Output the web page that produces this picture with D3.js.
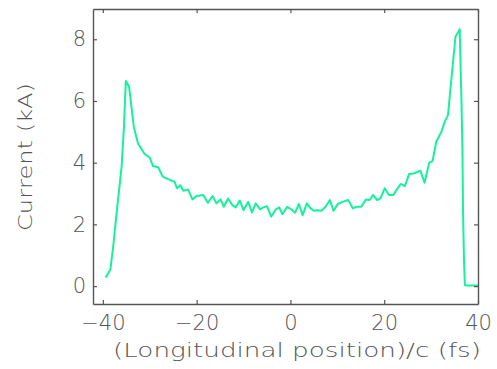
<!DOCTYPE html>
<html>
<head>
<meta charset="utf-8">
<script src="https://cdn.jsdelivr.net/npm/d3@7"></script>
<style>
  html, body { margin: 0; padding: 0; background: #fff; }
  svg text { font-family: "DejaVu Sans", sans-serif; font-weight: 200; fill: #555; }
</style>
</head>
<body>
<div id="chart"></div>
<script>
// Current profile
const positionFs = [
  -39.4, -38.4, -37.8, -37.0, -36.0, -35.5, -35.1, -34.4, -33.4, -32.5,
  -31.1, -30.0, -29.3, -28.2, -27.2, -25.7, -24.7, -24.2, -23.5, -22.8,
  -21.8, -20.9, -20.0, -18.6, -17.6, -16.6, -15.8, -14.9, -14.2, -13.3,
  -12.4, -11.7, -10.8, -10.0, -9.0, -8.2, -7.4, -6.5, -5.8, -5.0,
  -4.1, -3.1, -2.4, -1.7, -0.7, 0.2, 1.0, 1.8, 2.6, 3.5,
  4.3, 5.0, 5.7, 6.6, 7.5, 8.4, 9.2, 10.1, 11.1, 12.3,
  13.3, 14.1, 15.1, 16.1, 16.9, 17.6, 18.5, 19.2, 20.1, 21.0,
  21.9, 22.6, 23.5, 24.4, 25.3, 26.3, 27.7, 28.6, 29.6, 30.3,
  31.1, 32.2, 32.9, 33.6, 34.3, 35.2, 36.1, 36.5, 36.7, 36.8,
  37.0, 37.2, 38.0, 40.0
];
const currentKA = [
  0.28, 0.54, 1.27, 2.46, 3.87, 5.16, 6.65, 6.46, 5.16, 4.62,
  4.28, 4.16, 3.89, 3.85, 3.54, 3.44, 3.38, 3.17, 3.27, 3.09,
  3.13, 2.81, 2.92, 2.95, 2.70, 2.92, 2.68, 2.81, 2.57, 2.84,
  2.63, 2.55, 2.77, 2.46, 2.73, 2.39, 2.68, 2.49, 2.55, 2.59,
  2.25, 2.49, 2.55, 2.33, 2.57, 2.49, 2.38, 2.66, 2.30, 2.68,
  2.52, 2.44, 2.46, 2.44, 2.57, 2.79, 2.44, 2.66, 2.73, 2.79,
  2.52, 2.57, 2.57, 2.81, 2.79, 2.95, 2.79, 2.84, 3.17, 2.95,
  2.95, 3.11, 3.31, 3.24, 3.63, 3.65, 3.74, 3.35, 4.00, 4.05,
  4.68, 5.00, 5.33, 5.54, 6.68, 8.08, 8.32, 5.81, 4.19, 2.52,
  0.90, 0.03, 0.02, 0.02
];
const xTicks = [-40, -20, 0, 20, 40];
const yTicks = [0, 2, 4, 6, 8];
const xDomain = [-42.1, 40];
const yDomain = [-0.58, 8.98];

const width = 497, height = 369;
const margin = { top: 9, right: 19, bottom: 65, left: 93 };

const svg = d3.select('#chart').append('svg')
  .attr('width', width).attr('height', height);

const x = d3.scaleLinear().domain(xDomain).range([margin.left, width - margin.right]);
const y = d3.scaleLinear().domain(yDomain).range([height - margin.bottom, margin.top]);

const data = positionFs.map((p, i) => ({ p, c: currentKA[i] }));

// Curve
svg.append('path')
  .datum(data)
  .attr('fill', 'none')
  .attr('stroke', '#14f29a')
  .attr('stroke-width', 2)
  .attr('stroke-linejoin', 'round')
  .attr('d', d3.line().x(d => x(d.p)).y(d => y(d.c)));

// Axis box with inward ticks on all four sides
const tickLen = 4;
const axisColor = '#555';
const styleAxis = g => {
  g.select('.domain').attr('stroke', axisColor).attr('stroke-width', 1.4);
  g.selectAll('.tick line').attr('stroke', axisColor).attr('stroke-width', 1.2);
};

svg.append('g')
  .attr('transform', `translate(0,${y.range()[0]})`)
  .call(d3.axisBottom(x).tickValues(xTicks).tickSize(-tickLen).tickSizeOuter(0).tickPadding(11)
    .tickFormat(d => d < 0 ? '\u2212' + Math.abs(d) : d))
  .call(styleAxis)
  .call(g => g.selectAll('text').attr('font-size', 21).attr('fill', '#555'));

svg.append('g')
  .attr('transform', `translate(0,${y.range()[1]})`)
  .call(d3.axisTop(x).tickValues(xTicks).tickSize(-tickLen).tickSizeOuter(0).tickFormat(''))
  .call(styleAxis);

svg.append('g')
  .attr('transform', `translate(${x.range()[0]},0)`)
  .call(d3.axisLeft(y).tickValues(yTicks).tickSize(-tickLen).tickSizeOuter(0).tickPadding(7))
  .call(styleAxis)
  .call(g => g.selectAll('text').attr('font-size', 21).attr('fill', '#555'));

svg.append('g')
  .attr('transform', `translate(${x.range()[1]},0)`)
  .call(d3.axisRight(y).tickValues(yTicks).tickSize(-tickLen).tickSizeOuter(0).tickFormat(''))
  .call(styleAxis);

// Axis titles (glyphs stretched to the wide lettering of the original)
svg.append('text')
  .attr('x', 297).attr('y', 357)
  .attr('text-anchor', 'middle')
  .attr('font-size', 20)
  .attr('textLength', 368).attr('lengthAdjust', 'spacingAndGlyphs')
  .text('(Longitudinal position)/c (fs)');

svg.append('text')
  .attr('transform', 'translate(32,157) rotate(-90)')
  .attr('text-anchor', 'middle')
  .attr('font-size', 20)
  .attr('textLength', 148).attr('lengthAdjust', 'spacingAndGlyphs')
  .text('Current (kA)');
</script>
</body>
</html>
